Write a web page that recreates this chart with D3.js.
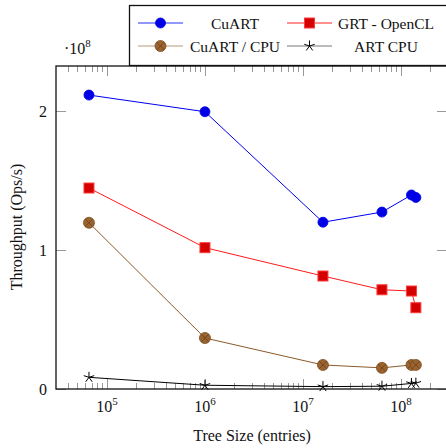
<!DOCTYPE html>
<html><head><meta charset="utf-8">
<script src="https://cdn.jsdelivr.net/npm/d3@7"></script>
<style>body{margin:0;background:#fff}svg{display:block}text{font-family:"Liberation Serif","DejaVu Serif",serif;fill:#111}</style>
</head><body>
<script>
const treeSizes = [65536, 1e6, 16e6, 64e6, 128e6, 142e6];
const cuart    = [2.115, 1.995, 1.20, 1.273, 1.396, 1.378];
const grt      = [1.446, 1.017, 0.813, 0.714, 0.705, 0.585];
const cuartCpu = [1.196, 0.367, 0.173, 0.152, 0.173, 0.173];
const artCpu   = [0.084, 0.027, 0.017, 0.020, 0.040, 0.042];
const seriesNames = ["CuART", "GRT - OpenCL", "CuART / CPU", "ART CPU"];
const yTicks = [0, 1, 2];
const xTicks = [1e5, 1e6, 1e7, 1e8];

const W = 446, H = 448;
const L = 56, R = 447, T = 66, B = 389;
const FS = 16;
const svg = d3.select("body").append("svg").attr("width", W).attr("height", H);

const x = d3.scaleLog().domain([Math.pow(10, 4.48), Math.pow(10, 8.47)]).range([L, R]);
const y = d3.scaleLinear().domain([0, 2.324]).range([B, T]);

// minor ticks
const minor = [];
for (let e = 4; e <= 8; e++) for (let m = 1; m <= 9; m++) {
  const v = m * Math.pow(10, e);
  if (v >= x.domain()[0] && v <= x.domain()[1] && m !== 1) minor.push(v);
}
const tg = svg.append("g").attr("stroke", "#999").attr("stroke-width", 1);
minor.forEach(v => {
  const px = Math.round(x(v)) + 0.5;
  tg.append("line").attr("x1", px).attr("x2", px).attr("y1", B).attr("y2", B - 6);
  tg.append("line").attr("x1", px).attr("x2", px).attr("y1", T).attr("y2", T + 6);
});
xTicks.forEach(v => {
  const px = Math.round(x(v)) + 0.5;
  tg.append("line").attr("x1", px).attr("x2", px).attr("y1", B).attr("y2", B - 10);
  tg.append("line").attr("x1", px).attr("x2", px).attr("y1", T).attr("y2", T + 10);
});
yTicks.forEach(v => {
  const py = Math.round(y(v)) + 0.5;
  tg.append("line").attr("x1", L).attr("x2", L + 10).attr("y1", py).attr("y2", py);
  tg.append("line").attr("x1", R).attr("x2", R - 10).attr("y1", py).attr("y2", py);
});

// frame
svg.append("rect").attr("x", L).attr("y", T).attr("width", R - L).attr("height", B - T)
  .attr("fill", "none").attr("stroke", "#111").attr("stroke-width", 1.3);

// tick labels
yTicks.forEach(v => {
  svg.append("text").attr("x", 47).attr("y", y(v) + 5.5).attr("text-anchor", "end")
    .attr("font-size", FS).text(v);
});
xTicks.forEach(v => {
  const t = svg.append("text").attr("x", x(v)).attr("y", 412).attr("text-anchor", "middle").attr("font-size", FS);
  t.append("tspan").text("10");
  t.append("tspan").attr("dy", -7).attr("font-size", 11).text(Math.round(Math.log10(v)));
});
{
  const t = svg.append("text").attr("x", 64).attr("y", 54).attr("font-size", FS);
  t.append("tspan").text("·10");
  t.append("tspan").attr("dy", -7).attr("font-size", 11).text("8");
}
svg.append("text").attr("x", 252).attr("y", 441).attr("text-anchor", "middle").attr("font-size", FS)
  .text("Tree Size (entries)");
svg.append("text").attr("transform", "translate(22,227) rotate(-90)").attr("text-anchor", "middle")
  .attr("font-size", FS).text("Throughput (Ops/s)");

// markers
function circleMark(g, cx, cy, o) {
  g.append("circle").attr("cx", cx).attr("cy", cy).attr("r", o.r).attr("fill", o.fill).attr("stroke", o.stroke).attr("stroke-width", 0.8);
  if (o.cross) {
    const d = o.r * 0.7;
    g.append("path").attr("d", `M${cx-d},${cy-d}L${cx+d},${cy+d}M${cx-d},${cy+d}L${cx+d},${cy-d}`)
      .attr("stroke", o.crossColor).attr("stroke-width", 0.8);
  }
}
function squareMark(g, cx, cy, o) {
  g.append("rect").attr("x", cx - o.s / 2).attr("y", cy - o.s / 2).attr("width", o.s).attr("height", o.s)
    .attr("fill", o.fill).attr("stroke", o.stroke).attr("stroke-width", 1);
}
function starMark(g, cx, cy, o) {
  let d = "";
  for (let i = 0; i < 5; i++) {
    const a = -Math.PI / 2 + i * 2 * Math.PI / 5;
    d += `M${cx},${cy}L${cx + o.r * Math.cos(a)},${cy + o.r * Math.sin(a)}`;
  }
  g.append("path").attr("d", d).attr("stroke", o.stroke).attr("stroke-width", 1).attr("fill", "none");
}

const series = [
  {name: seriesNames[0], vals: cuart, line: "#0000ee", legLine: "#2233ff", mark: circleMark, opt: {r: 5, fill: "#0000e6", stroke: "#0000e6"}},
  {name: seriesNames[1], vals: grt, line: "#ff1a1a", legLine: "#ff2222", mark: squareMark, opt: {s: 10, fill: "#d40000", stroke: "#ff3b3b"}},
  {name: seriesNames[2], vals: cuartCpu, line: "#8b5a2b", legLine: "#b8997a", mark: circleMark, opt: {r: 5.5, fill: "#9a6430", stroke: "#7a4a1e", cross: true, crossColor: "#6b3f18"}},
  {name: seriesNames[3], vals: artCpu, line: "#000", legLine: "#777", mark: starMark, opt: {r: 5.5, stroke: "#000"}}
];
const line = d3.line().x(d => x(d[0])).y(d => y(d[1]));
series.forEach(s => {
  const pts = treeSizes.map((t, i) => [t, s.vals[i]]);
  const g = svg.append("g");
  g.append("path").attr("d", line(pts)).attr("fill", "none").attr("stroke", s.line).attr("stroke-width", 1);
  pts.forEach(p => s.mark(g, x(p[0]), y(p[1]), s.opt));
});

// legend
const lg = svg.append("g");
lg.append("rect").attr("x", 129.5).attr("y", 5.5).attr("width", 330).attr("height", 60)
  .attr("fill", "#fff").attr("stroke", "#111").attr("stroke-width", 1.3);
const legPos = [
  {x0: 138, x1: 183, tx: 235, ty: 23},
  {x0: 287, x1: 332, tx: 386, ty: 23},
  {x0: 138, x1: 183, tx: 235, ty: 46},
  {x0: 287, x1: 332, tx: 386, ty: 46}
];
series.forEach((s, i) => {
  const p = legPos[i];
  lg.append("line").attr("x1", p.x0).attr("x2", p.x1).attr("y1", p.ty).attr("y2", p.ty)
    .attr("stroke", s.legLine).attr("stroke-width", 1);
  s.mark(lg, (p.x0 + p.x1) / 2, p.ty, s.opt);
  lg.append("text").attr("x", p.tx).attr("y", p.ty + 5.5).attr("text-anchor", "middle").attr("font-size", 15.5).text(s.name);
});
</script>
</body></html>
